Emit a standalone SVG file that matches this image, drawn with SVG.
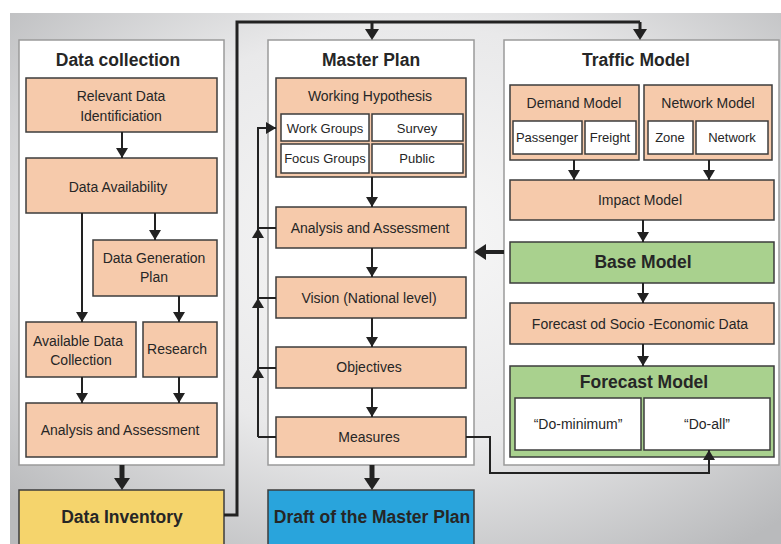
<svg xmlns="http://www.w3.org/2000/svg" width="781" height="544" viewBox="0 0 781 544">
  <defs>
    <radialGradient id="bg" cx="52%" cy="42%" r="72%">
      <stop offset="0" stop-color="#f7f7f7"/>
      <stop offset="0.55" stop-color="#e9e9ea"/>
      <stop offset="1" stop-color="#b9babc"/>
    </radialGradient>
    <!-- thin arrowhead, tip at path end -->
    <marker id="a" markerUnits="userSpaceOnUse" viewBox="0 0 10 12" markerWidth="10" markerHeight="12" refX="10" refY="6" orient="auto">
      <path d="M0,0 L10,6 L0,12 z" fill="#222"/>
    </marker>
    <!-- heavy arrowhead, base at path end -->
    <marker id="b" markerUnits="userSpaceOnUse" viewBox="0 0 12 16" markerWidth="12" markerHeight="16" refX="0" refY="8" orient="auto">
      <path d="M0,0 L12,8 L0,16 z" fill="#222"/>
    </marker>
    <!-- medium arrowhead for the top distribution line, base at path end -->
    <marker id="c" markerUnits="userSpaceOnUse" viewBox="0 0 11 14" markerWidth="11" markerHeight="14" refX="0" refY="7" orient="auto">
      <path d="M0,0 L11,7 L0,14 z" fill="#222"/>
    </marker>
  </defs>
  <style>
    .panel { fill: #ffffff; stroke: #9a9a9a; stroke-width: 1.5; }
    .box { fill: #f6caab; stroke: #3c3c3c; stroke-width: 1.5; }
    .sub { fill: #ffffff; stroke: #3c3c3c; stroke-width: 1.5; }
    .green { fill: #a9d18e; stroke: #3c3c3c; stroke-width: 1.5; }
    .yellow { fill: #f5d46c; stroke: #3c3c3c; stroke-width: 1.5; }
    .blue { fill: #29a4dc; stroke: #3c3c3c; stroke-width: 1.5; }
    text { font-family: "Liberation Sans", Arial, sans-serif; fill: #262626; text-anchor: middle; dominant-baseline: central; }
    .t { font-size: 14px; }
    .s { font-size: 13px; }
    .h { font-size: 17.5px; font-weight: bold; }
    .ln { fill: none; stroke: #222; stroke-width: 2; }
    .lnA { fill: none; stroke: #222; stroke-width: 2; marker-end: url(#a); }
    .thick { fill: none; stroke: #222; stroke-width: 5; marker-end: url(#b); }
    .top { fill: none; stroke: #222; stroke-width: 3; }
  </style>

  <!-- backdrop -->
  <rect x="10" y="13" width="771" height="531" fill="url(#bg)"/>

  <!-- panels -->
  <g id="panel-data-collection">
    <rect class="panel" x="19" y="40" width="205" height="425"/>
    <text class="h" x="118" y="60">Data collection</text>
  </g>
  <g id="panel-master-plan">
    <rect class="panel" x="268" y="40" width="206" height="425"/>
    <text class="h" x="371" y="60">Master Plan</text>
  </g>
  <g id="panel-traffic-model">
    <rect class="panel" x="504" y="40" width="275" height="425"/>
    <text class="h" x="636" y="60">Traffic Model</text>
  </g>

  <!-- Data collection nodes -->
  <g id="relevant-data">
    <rect class="box" x="26" y="78" width="191" height="54"/>
    <text class="t" x="121" y="96">Relevant Data</text>
    <text class="t" x="121" y="116">Identificiation</text>
  </g>
  <g id="data-availability">
    <rect class="box" x="26" y="158" width="191" height="55"/>
    <text class="t" x="118" y="187">Data Availability</text>
  </g>
  <g id="data-generation-plan">
    <rect class="box" x="93" y="240" width="124" height="56"/>
    <text class="t" x="154" y="258">Data Generation</text>
    <text class="t" x="154" y="277">Plan</text>
  </g>
  <g id="available-data-collection">
    <rect class="box" x="26" y="322" width="110" height="55"/>
    <text class="t" x="78" y="341">Available Data</text>
    <text class="t" x="81" y="360">Collection</text>
  </g>
  <g id="research">
    <rect class="box" x="143" y="322" width="74" height="55"/>
    <text class="t" x="177" y="349">Research</text>
  </g>
  <g id="analysis-dc">
    <rect class="box" x="26" y="403" width="191" height="54"/>
    <text class="t" x="120" y="430">Analysis and Assessment</text>
  </g>
  <g id="data-inventory">
    <rect class="yellow" x="19" y="490" width="205" height="60"/>
    <text class="h" x="122" y="517">Data Inventory</text>
  </g>

  <!-- Master Plan nodes -->
  <g id="working-hypothesis">
    <rect class="box" x="276" y="78" width="190" height="99"/>
    <text class="t" x="370" y="96">Working Hypothesis</text>
    <rect class="sub" x="281" y="114" width="88" height="27"/>
    <text class="s" x="325" y="128">Work Groups</text>
    <rect class="sub" x="372" y="114" width="91" height="27"/>
    <text class="s" x="417" y="128">Survey</text>
    <rect class="sub" x="281" y="144" width="88" height="29"/>
    <text class="s" x="325" y="158">Focus Groups</text>
    <rect class="sub" x="372" y="144" width="91" height="29"/>
    <text class="s" x="417" y="158">Public</text>
  </g>
  <g id="analysis-mp">
    <rect class="box" x="276" y="207" width="190" height="41"/>
    <text class="t" x="370" y="228">Analysis and Assessment</text>
  </g>
  <g id="vision">
    <rect class="box" x="276" y="277" width="190" height="41"/>
    <text class="t" x="369" y="298">Vision (National level)</text>
  </g>
  <g id="objectives">
    <rect class="box" x="276" y="347" width="190" height="41"/>
    <text class="t" x="369" y="367">Objectives</text>
  </g>
  <g id="measures">
    <rect class="box" x="276" y="417" width="190" height="40"/>
    <text class="t" x="369" y="437">Measures</text>
  </g>
  <g id="draft-master-plan">
    <rect class="blue" x="268" y="490" width="206" height="60"/>
    <text class="h" x="372" y="517">Draft of the Master Plan</text>
  </g>

  <!-- Traffic Model nodes -->
  <g id="demand-model">
    <rect class="box" x="510" y="85" width="129" height="75"/>
    <text class="t" x="574" y="103">Demand Model</text>
    <rect class="sub" x="513" y="121" width="69" height="33"/>
    <text class="s" x="547" y="137">Passenger</text>
    <rect class="sub" x="585" y="121" width="51" height="33"/>
    <text class="s" x="610" y="137">Freight</text>
  </g>
  <g id="network-model">
    <rect class="box" x="644" y="85" width="128" height="75"/>
    <text class="t" x="708" y="103">Network Model</text>
    <rect class="sub" x="648" y="121" width="45" height="33"/>
    <text class="s" x="670" y="137">Zone</text>
    <rect class="sub" x="696" y="121" width="72" height="33"/>
    <text class="s" x="732" y="137">Network</text>
  </g>
  <g id="impact-model">
    <rect class="box" x="510" y="180" width="264" height="40"/>
    <text class="t" x="640" y="200">Impact Model</text>
  </g>
  <g id="base-model">
    <rect class="green" x="510" y="242" width="264" height="41"/>
    <text class="h" x="643" y="262">Base Model</text>
  </g>
  <g id="forecast-socio-economic">
    <rect class="box" x="510" y="303" width="264" height="41"/>
    <text class="t" x="640" y="324">Forecast od Socio -Economic Data</text>
  </g>
  <g id="forecast-model">
    <rect class="green" x="510" y="366" width="264" height="91"/>
    <text class="h" x="644" y="382">Forecast Model</text>
    <rect class="sub" x="515" y="398" width="126" height="52"/>
    <text class="t" x="578" y="424">“Do-minimum”</text>
    <rect class="sub" x="644" y="398" width="126" height="52"/>
    <text class="t" x="707" y="424">“Do-all”</text>
  </g>

  <!-- connectors -->
  <g id="connectors">
    <!-- Data collection flow -->
    <path class="lnA" d="M122,132 V158"/>
    <path class="lnA" d="M82,213 V322"/>
    <path class="lnA" d="M155,213 V240"/>
    <path class="lnA" d="M179,296 V322"/>
    <path class="lnA" d="M82,377 V403"/>
    <path class="lnA" d="M179,377 V403"/>
    <path class="thick" d="M122,465 V478"/>

    <!-- Data Inventory feeding the Master Plan and Traffic Model -->
    <path class="top" d="M224,515 H237 V22 H640"/>
    <path class="top" d="M372,22 V29" style="marker-end:url(#c)"/>
    <path class="top" d="M640,22 V29" style="marker-end:url(#c)"/>

    <!-- Master Plan flow -->
    <path class="lnA" d="M372,177 V207"/>
    <path class="lnA" d="M372,248 V277"/>
    <path class="lnA" d="M372,318 V347"/>
    <path class="lnA" d="M372,388 V417"/>
    <path class="thick" d="M372,465 V478"/>

    <!-- feedback loop back to the working hypothesis -->
    <path class="ln" d="M276,228 H258 M276,298 H258 M276,368 H258 M276,437 H258"/>
    <path class="lnA" d="M258,437 V368"/>
    <path class="lnA" d="M258,368 V298"/>
    <path class="lnA" d="M258,298 V228"/>
    <path class="lnA" d="M258,228 V128 H276"/>

    <!-- Traffic Model flow -->
    <path class="lnA" d="M574,160 V180"/>
    <path class="lnA" d="M709,160 V180"/>
    <path class="lnA" d="M643,220 V242"/>
    <path class="lnA" d="M643,283 V303"/>
    <path class="lnA" d="M643,344 V366"/>

    <!-- Traffic Model back to Master Plan -->
    <path class="thick" d="M504,252 H486" style="stroke-width:4"/>

    <!-- Measures to the "Do-all" scenario -->
    <path class="lnA" d="M466,437 H490 V473 H709 V450"/>
  </g>
</svg>
